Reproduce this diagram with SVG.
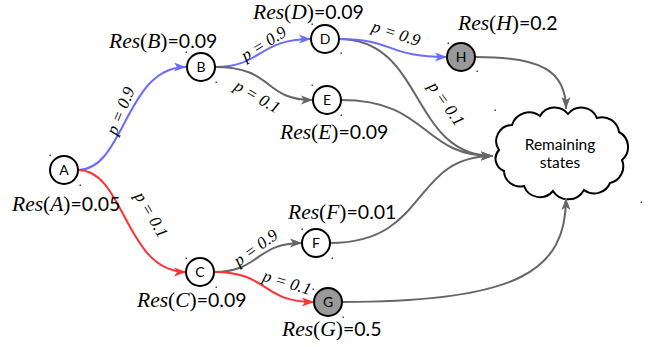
<svg xmlns="http://www.w3.org/2000/svg" width="651" height="347" viewBox="0 0 651 347">
<defs>
<style>
.n{fill:#fff;stroke:#000;stroke-width:2}
.g{fill:#999;stroke:#000;stroke-width:2}
.nl{font-family:Lato,"Open Sans",sans-serif;font-size:14px;text-anchor:middle;fill:#000}
.cl{font-family:Lato,"Open Sans",sans-serif;font-size:15.5px;text-anchor:middle;fill:#000}
.e{fill:none;stroke-width:2}
.bl{stroke:#6b6bff}
.rd{stroke:#ff3333}
.gr{stroke:#666}
.res{font-family:"Liberation Serif",serif;font-size:21.5px;fill:#000}
.i{font-style:italic}
.s{font-family:Lato,sans-serif;font-size:19.5px}
.p{font-family:"Liberation Serif",serif;font-style:italic;font-size:17px;fill:#000;text-anchor:middle}
.d{fill:#444}
</style>
<marker id="ab" markerUnits="userSpaceOnUse" markerWidth="13" markerHeight="10" refX="12" refY="5" orient="auto"><path d="M0,0.5 L12,5 L0,9.5 L3,5 z" fill="#6b6bff"/></marker>
<marker id="ar" markerUnits="userSpaceOnUse" markerWidth="13" markerHeight="10" refX="12" refY="5" orient="auto"><path d="M0,0.5 L12,5 L0,9.5 L3,5 z" fill="#ff3333"/></marker>
<marker id="ag" markerUnits="userSpaceOnUse" markerWidth="13" markerHeight="10" refX="12" refY="5" orient="auto"><path d="M0,0.5 L12,5 L0,9.5 L3,5 z" fill="#666"/></marker>
</defs>
<g id="cloud">
<path fill="#fff" stroke="#000" stroke-width="2" d="M499,150 A16,16 0 0 1 512,125 A18,18 0 0 1 540,116 A17,17 0 0 1 568,114 A17,17 0 0 1 597,118 A17,17 0 0 1 619,132 A17,17 0 0 1 622,160 A17,17 0 0 1 610,183 A17,17 0 0 1 584,190 A18,18 0 0 1 553,191 A17,17 0 0 1 524,186 A16,16 0 0 1 504,171 A13,13 0 0 1 499,150 z"/>
<text class="cl" x="560" y="150">Remaining</text>
<text class="cl" x="560" y="168">states</text>
<rect class="d" x="494.5" y="109.5" width="1.5" height="1.5"/><rect class="d" x="640.5" y="201.5" width="1.5" height="1.5"/>
</g>
<g id="edges">
<path class="e bl" d="M78,170 C125,170 125,67 186,67" marker-end="url(#ab)"/>
<path class="e rd" d="M78,170 C125,170 125,272 186,272" marker-end="url(#ar)"/>
<path class="e bl" d="M215,67 C262,67 258,39 311,39" marker-end="url(#ab)"/>
<path class="e gr" d="M215,67 C275,67 262,100 313,100" marker-end="url(#ag)"/>
<path class="e gr" d="M339,39 C425,39 410,156 493,156" marker-end="url(#ag)"/>
<path class="e bl" d="M339,39 C395,39 385,57 447,57" marker-end="url(#ab)"/>
<path class="e gr" d="M341,100 C430,100 420,156 493,156" marker-end="url(#ag)"/>
<path class="e gr" d="M476,57 C540,57 566,70 566,109" marker-end="url(#ag)"/>
<path class="e gr" d="M214,272 C260,272 255,243 302,243" marker-end="url(#ag)"/>
<path class="e rd" d="M214,272 C270,272 260,302 314,302" marker-end="url(#ar)"/>
<path class="e gr" d="M330,243 C430,243 410,156 493,156" marker-end="url(#ag)"/>
<path class="e gr" d="M342,302 C520,302 566,270 566,198" marker-end="url(#ag)"/>
<text class="p" transform="translate(121,111) rotate(-68)" y="5">p = 0.9</text>
<text class="p" transform="translate(151,215) rotate(60)" y="5">p = 0.1</text>
<text class="p" transform="translate(264,44) rotate(-32)" y="5">p = 0.9</text>
<text class="p" transform="translate(257,97) rotate(30)" y="5">p = 0.1</text>
<text class="p" transform="translate(396,34) rotate(18)" y="5">p = 0.9</text>
<text class="p" transform="translate(446,104) rotate(55)" y="5">p = 0.1</text>
<text class="p" transform="translate(256,248) rotate(-36)" y="5">p = 0.9</text>
<text class="p" transform="translate(287,283) rotate(17)" y="5">p = 0.1</text>
</g>
<g id="A"><circle class="n" cx="64" cy="170" r="14"/><text class="nl" x="64" y="175">A</text>
<text class="res" x="12" y="211"><tspan class="i">Res</tspan>(<tspan class="i">A</tspan>)<tspan class="s">=0.05</tspan></text>
<rect class="d" x="49.5" y="154.5" width="1.5" height="1.5"/><rect class="d" x="79.5" y="184.5" width="1.5" height="1.5"/></g>
<g id="B"><circle class="n" cx="201" cy="67" r="14"/><text class="nl" x="201" y="72">B</text>
<text class="res" x="109" y="48"><tspan class="i">Res</tspan>(<tspan class="i">B</tspan>)<tspan class="s">=0.09</tspan></text>
<rect class="d" x="185.5" y="51.5" width="1.5" height="1.5"/><rect class="d" x="215.5" y="81.5" width="1.5" height="1.5"/></g>
<g id="C"><circle class="n" cx="200" cy="272" r="14"/><text class="nl" x="200" y="277">C</text>
<text class="res" x="137" y="307"><tspan class="i">Res</tspan>(<tspan class="i">C</tspan>)<tspan class="s">=0.09</tspan></text>
<rect class="d" x="185.5" y="257.5" width="1.5" height="1.5"/><rect class="d" x="215.5" y="286.5" width="1.5" height="1.5"/></g>
<g id="D"><circle class="n" cx="325" cy="39" r="14"/><text class="nl" x="325" y="44">D</text>
<text class="res" x="253" y="19"><tspan class="i">Res</tspan>(<tspan class="i">D</tspan>)<tspan class="s">=0.09</tspan></text>
<rect class="d" x="311.5" y="23.5" width="1.5" height="1.5"/><rect class="d" x="340.5" y="52.5" width="1.5" height="1.5"/></g>
<g id="E"><circle class="n" cx="327" cy="100" r="14"/><text class="nl" x="327" y="105">E</text>
<text class="res" x="280" y="139"><tspan class="i">Res</tspan>(<tspan class="i">E</tspan>)<tspan class="s">=0.09</tspan></text>
<rect class="d" x="311.5" y="84.5" width="1.5" height="1.5"/><rect class="d" x="340.5" y="114.5" width="1.5" height="1.5"/></g>
<g id="F"><circle class="n" cx="316" cy="243" r="14"/><text class="nl" x="316" y="248">F</text>
<text class="res" x="288" y="219"><tspan class="i">Res</tspan>(<tspan class="i">F</tspan>)<tspan class="s">=0.01</tspan></text>
<rect class="d" x="301.5" y="228.5" width="1.5" height="1.5"/><rect class="d" x="331.5" y="257.5" width="1.5" height="1.5"/></g>
<g id="G"><circle class="g" cx="328" cy="302" r="14"/><text class="nl" x="328" y="307">G</text>
<text class="res" x="282" y="336"><tspan class="i">Res</tspan>(<tspan class="i">G</tspan>)<tspan class="s">=0.5</tspan></text>
<rect class="d" x="312.5" y="288.5" width="1.5" height="1.5"/><rect class="d" x="342.5" y="316.5" width="1.5" height="1.5"/></g>
<g id="H"><circle class="g" cx="461" cy="57" r="14"/><text class="nl" x="461" y="62">H</text>
<text class="res" x="458" y="30"><tspan class="i">Res</tspan>(<tspan class="i">H</tspan>)<tspan class="s">=0.2</tspan></text>
<rect class="d" x="447.5" y="42.5" width="1.5" height="1.5"/><rect class="d" x="476.5" y="70.5" width="1.5" height="1.5"/></g>
</svg>
